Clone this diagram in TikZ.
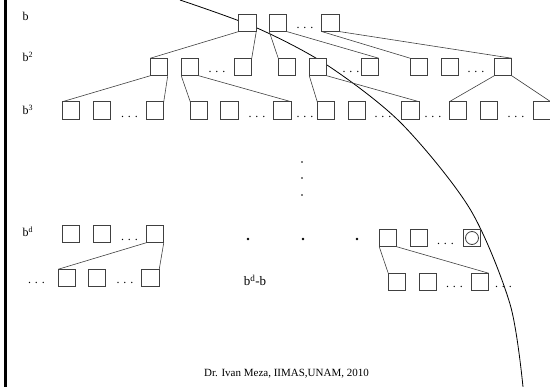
\documentclass[tikz,border=0pt]{standalone}
\usepackage{fontspec}
\setmainfont{Liberation Serif}
\begin{document}
\begin{tikzpicture}[x=1pt,y=-1pt,
  bx/.style={draw=black!75, line width=0.9pt, fill=white, minimum size=17.5pt, inner sep=0pt, outer sep=0pt},
  ed/.style={draw=black!75, line width=0.6pt},
  lbl/.style={font=\fontsize{12}{14}\selectfont, anchor=base west, inner sep=0pt},
  dts/.style={font=\fontsize{12}{14}\selectfont, anchor=base, inner sep=0pt},
  ]
\useasboundingbox (0,0) rectangle (550,387);
\fill (4,0) rectangle (6.7,387);
\draw[line width=0.8pt] plot[smooth] coordinates {(180,0) (257,28) (327,65) (401,123) (470,209) (510,304) (523,387)};
% labels
\node[lbl] (lb1) at (22.5,21) {b};
\node[lbl] (lb2) at (22.5,62) {b\textsuperscript{2}};
\node[lbl] (lb3) at (22.5,115) {b\textsuperscript{3}};
\node[lbl] (lbd) at (22.5,237) {b\textsuperscript{d}};
% level 1
\node[bx] (L1a) at (247.5,22.8) {};
\node[bx] (L1b) at (278,22.8) {};
\node[bx] (L1c) at (330.5,22.8) {};
\node[dts] (D1) at (305,29) {. . .};
% level 2
\node[bx] (L2a) at (159,67) {};
\node[bx] (L2b) at (190,67) {};
\node[bx] (L2c) at (243,67) {};
\node[bx] (L2d) at (287,67) {};
\node[bx] (L2e) at (318,67) {};
\node[bx] (L2f) at (370,67) {};
\node[bx] (L2g) at (419,67) {};
\node[bx] (L2h) at (450,67) {};
\node[bx] (L2i) at (503,67) {};
\node[dts] (D2a) at (217,73) {. . .};
\node[dts] (D2b) at (351,73) {. . .};
\node[dts] (D2c) at (476,73) {. . .};
% level 3
\node[bx] (L3a) at (71,110.5) {};
\node[bx] (L3b) at (102,110.5) {};
\node[bx] (L3c) at (155,110.5) {};
\node[bx] (L3d) at (199,110.5) {};
\node[bx] (L3e) at (229.5,110.5) {};
\node[bx] (L3f) at (282.5,110.5) {};
\node[bx] (L3g) at (326,110.5) {};
\node[bx] (L3h) at (357,110.5) {};
\node[bx] (L3i) at (410.5,110.5) {};
\node[bx] (L3j) at (458,110.5) {};
\node[bx] (L3k) at (489,110.5) {};
\node[bx] (L3l) at (542,110.5) {};
\node[dts] (D3a) at (129.5,118) {. . .};
\node[dts] (D3b) at (257,118) {. . .};
\node[dts] (D3c) at (305,118) {. . .};
\node[dts] (D3d) at (383,118) {. . .};
\node[dts] (D3e) at (433,118) {. . .};
\node[dts] (D3f) at (516,118) {. . .};
% vertical dots
\fill (302,162) circle (0.8);
\fill (302,178) circle (0.8);
\fill (302,195) circle (0.8);
% level d
\node[bx] (Lda) at (71,234) {};
\node[bx] (Ldb) at (102,234) {};
\node[bx] (Ldc) at (155,234) {};
\node[dts] (Dda) at (129.5,241) {. . .};
\fill (248,239) circle (1.3);
\fill (303,239) circle (1.3);
\fill (357,239) circle (1.3);
\node[bx] (Rda) at (388,238) {};
\node[bx] (Rdb) at (419,238) {};
\node[bx] (Rdc) at (472,238) {};
\node[dts] (Ddb) at (445.5,245) {. . .};
\draw[black!75, line width=0.8pt] (Rdc.center) circle (6.5);
% bottom rows
\node[dts] (Bl0) at (36.5,284) {. . .};
\node[bx] (Bla) at (67,278) {};
\node[bx] (Blb) at (97,278) {};
\node[bx] (Blc) at (150.5,278) {};
\node[dts] (Bld) at (125,284) {. . .};
\node[font=\fontsize{13}{15}\selectfont, anchor=base, inner sep=0pt] (bdb) at (255,286) {b\textsuperscript{d}-b};
\node[bx] (Bra) at (397,282) {};
\node[bx] (Brb) at (428,282) {};
\node[bx] (Brc) at (480,282) {};
\node[dts] (Brd) at (454.5,288) {. . .};
\node[dts] (Bre) at (503.5,288) {. . .};
% edges
\draw[ed] (L1a.south west) -- (L2a.north west);
\draw[ed] (L1a.south east) -- (L2c.north east);
\draw[ed] (L1b.south west) -- (L2d.north west);
\draw[ed] (L1b.south east) -- (L2f.north east);
\draw[ed] (L1c.south west) -- (L2g.north west);
\draw[ed] (L1c.south east) -- (L2i.north east);
\draw[ed] (L2a.south west) -- (L3a.north west);
\draw[ed] (L2a.south east) -- (L3c.north east);
\draw[ed] (L2b.south west) -- (L3d.north west);
\draw[ed] (L2b.south east) -- (L3f.north east);
\draw[ed] (L2e.south west) -- (L3g.north west);
\draw[ed] (L2e.south east) -- (L3i.north east);
\draw[ed] (L2i.south west) -- (L3j.north west);
\draw[ed] (L2i.south east) -- (L3l.north east);
\draw[ed] (Ldc.south west) -- (Bla.north west);
\draw[ed] (Ldc.south east) -- (Blc.north east);
\draw[ed] (Rda.south west) -- (Bra.north west);
\draw[ed] (Rda.south east) -- (Brc.north east);
% footer
\node[font=\fontsize{11}{13}\selectfont, anchor=base, inner sep=0pt] (ft) at (286.5,377) {Dr. Ivan Meza, IIMAS,UNAM, 2010};
\end{tikzpicture}
\end{document}
